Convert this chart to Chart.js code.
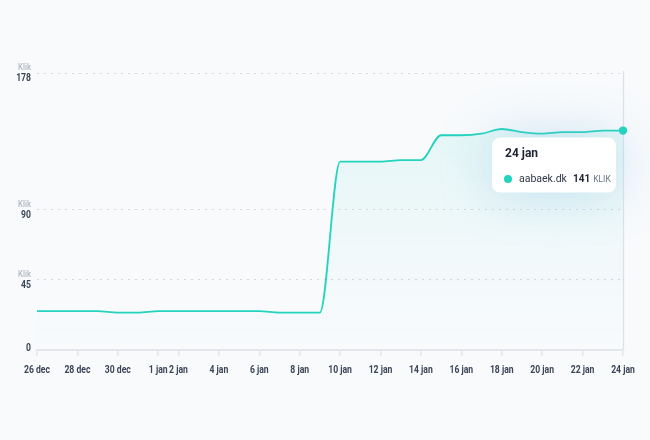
<!DOCTYPE html>
<html>
<head>
<meta charset="utf-8">
<script src="https://cdn.jsdelivr.net/npm/chart.js@4.4.0/dist/chart.umd.min.js"></script>
<style>
html,body{margin:0;padding:0;background:#f8fafc;}
#wrap{width:650px;height:440px;position:relative;}
</style>
</head>
<body>
<div id="wrap"><canvas id="c" width="650" height="440"></canvas></div>
<script>
const labels = ['26 dec','27 dec','28 dec','29 dec','30 dec','31 dec','1 jan','2 jan','3 jan','4 jan','5 jan','6 jan','7 jan','8 jan','9 jan','10 jan','11 jan','12 jan','13 jan','14 jan','15 jan','16 jan','17 jan','18 jan','19 jan','20 jan','21 jan','22 jan','23 jan','24 jan'];
const shownLabels = ['26 dec','28 dec','30 dec','1 jan','2 jan','4 jan','6 jan','8 jan','10 jan','12 jan','14 jan','16 jan','18 jan','20 jan','22 jan','24 jan'];
const clicks = [25,25,25,25,24,24,25,25,25,25,25,25,24,24,24,121,121,121,122,122,138,138,139,142,140,139,140,140,141,141];
const yTicks = [0,45,90,178];
const seriesName = 'aabaek.dk';
const unitLabel = 'Klik';
const tooltipUnit = 'KLIK';

const LINE = '#22d3bd';
const FONT = 'Roboto, "Noto Sans", sans-serif';
const SQUEEZE = 0.82;

function condensedText(ctx, text, x, y, align) {
  ctx.save();
  ctx.translate(x, y);
  ctx.scale(SQUEEZE, 1);
  ctx.textAlign = align;
  ctx.fillText(text, 0, 0);
  ctx.restore();
}

const overlay = {
  id: 'overlay',
  afterDatasetsDraw(chart) {
    const ctx = chart.ctx;
    const y = chart.scales.y;
    const x = chart.scales.x;
    const area = chart.chartArea;
    const meta = chart.getDatasetMeta(0);
    const last = meta.data[meta.data.length - 1];
    ctx.save();
    // hover line
    ctx.strokeStyle = '#dde2e8';
    ctx.lineWidth = 1.2;
    ctx.beginPath();
    ctx.moveTo(Math.round(last.x) + 0.5, area.top - 2);
    ctx.lineTo(Math.round(last.x) + 0.5, area.bottom);
    ctx.stroke();
    // active point
    ctx.fillStyle = LINE;
    ctx.beginPath();
    ctx.arc(last.x, last.y, 4.2, 0, Math.PI * 2);
    ctx.fill();
    // x labels
    ctx.textBaseline = 'middle';
    ctx.fillStyle = '#3b4557';
    ctx.font = '700 10.5px ' + FONT;
    labels.forEach((l, i) => {
      if (!shownLabels.includes(l)) return;
      condensedText(ctx, l, x.getPixelForValue(i), area.bottom + 20, 'center');
    });
    // y labels
    yTicks.forEach(v => {
      const py = y.getPixelForValue(v);
      if (v === 0) {
        ctx.fillStyle = '#3b4557';
        ctx.font = '700 10.5px ' + FONT;
        condensedText(ctx, String(v), 31, py - 2, 'right');
      } else {
        ctx.fillStyle = '#b3b9c5';
        ctx.font = '500 9.5px ' + FONT;
        condensedText(ctx, unitLabel, 31, py - 5, 'right');
        ctx.fillStyle = '#3b4557';
        ctx.font = '700 10.5px ' + FONT;
        condensedText(ctx, String(v), 31, py + 5, 'right');
      }
    });
    // tooltip
    const bx = last.x - 131, by = last.y + 7, bw = 124, bh = 55;
    ctx.shadowColor = 'rgba(120,185,225,0.4)';
    ctx.shadowBlur = 50;
    ctx.fillStyle = '#ffffff';
    ctx.beginPath();
    ctx.roundRect(bx, by, bw, bh, 8);
    ctx.fill();
    ctx.shadowBlur = 0;
    ctx.shadowColor = 'transparent';
    ctx.textAlign = 'left';
    ctx.textBaseline = 'middle';
    ctx.fillStyle = '#1e2433';
    ctx.font = '700 12px ' + FONT;
    ctx.fillText(labels[labels.length - 1], bx + 13, by + 16);
    ctx.fillStyle = LINE;
    ctx.beginPath();
    ctx.arc(bx + 16, by + 41.5, 4, 0, Math.PI * 2);
    ctx.fill();
    ctx.fillStyle = '#2f3748';
    ctx.font = '400 10.5px ' + FONT;
    ctx.fillText(seriesName, bx + 27, by + 41.5);
    ctx.fillStyle = '#1e2433';
    ctx.font = '700 10px ' + FONT;
    const val = String(clicks[clicks.length - 1]);
    ctx.fillText(val, bx + 81, by + 41.5);
    const vw = ctx.measureText(val).width;
    ctx.fillStyle = '#6b7385';
    ctx.font = '400 8.5px ' + FONT;
    ctx.fillText(tooltipUnit, bx + 81 + vw + 3, by + 42);
    ctx.restore();
  }
};

const ctx = document.getElementById('c').getContext('2d');
new Chart(ctx, {
  type: 'line',
  data: {
    labels: labels,
    datasets: [{
      label: seriesName,
      data: clicks,
      borderColor: LINE,
      borderWidth: 1.8,
      pointRadius: 0,
      cubicInterpolationMode: 'monotone',
      fill: 'origin',
      backgroundColor: (c) => {
        const a = c.chart.chartArea;
        if (!a) return 'rgba(34,211,189,0.06)';
        const g = c.chart.ctx.createLinearGradient(0, a.top, 0, a.bottom);
        g.addColorStop(0, 'rgba(34,211,189,0.11)');
        g.addColorStop(0.6, 'rgba(34,211,189,0.035)');
        g.addColorStop(1, 'rgba(34,211,189,0)');
        return g;
      }
    }]
  },
  options: {
    responsive: false,
    animation: false,
    layout: { padding: { left: 37, right: 27, top: 73, bottom: 0 } },
    plugins: { legend: { display: false }, tooltip: { enabled: false } },
    events: [],
    scales: {
      x: {
        type: 'category',
        offset: false,
        afterFit: (s) => { s.height = 90; },
        border: { display: true, color: '#e3e7ec', width: 2 },
        grid: {
          display: true,
          drawOnChartArea: false,
          drawTicks: true,
          tickLength: 6,
          color: '#e3e7ec',
          lineWidth: 1.5
        },
        ticks: {
          autoSkip: false,
          maxRotation: 0,
          padding: 8,
          color: 'rgba(0,0,0,0)',
          font: { family: FONT, size: 10 },
          callback: function(v, i) {
            const l = labels[i];
            return shownLabels.includes(l) ? l : null;
          }
        }
      },
      y: {
        min: 0,
        max: 178,
        afterFit: (s) => { s.width = 0; },
        afterBuildTicks: (s) => { s.ticks = yTicks.map(v => ({ value: v })); },
        border: { display: false, dash: [2, 5] },
        grid: {
          drawTicks: false,
          color: (c) => c.tick && c.tick.value === 0 ? 'rgba(0,0,0,0)' : '#d3d8df',
          lineWidth: 1
        },
        ticks: { display: false }
      }
    }
  },
  plugins: [overlay]
});
</script>
</body>
</html>
